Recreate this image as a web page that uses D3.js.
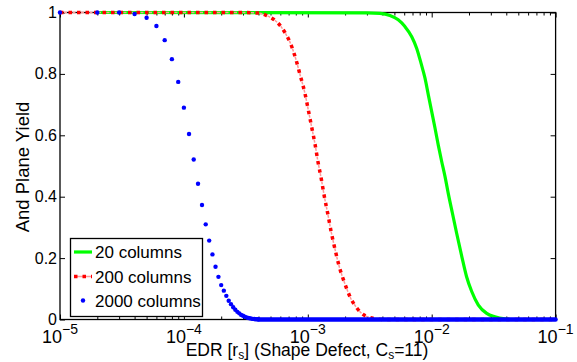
<!DOCTYPE html>
<html>
<head>
<meta charset="utf-8">
<script src="https://cdn.jsdelivr.net/npm/d3@7"></script>
<style>
  body { margin: 0; background: #fff; }
  text { font-family: "Liberation Sans", Arial, Helvetica, sans-serif; fill: #000; }
</style>
</head>
<body>
<div id="chart"></div>
<script>
// Series names (legend order)
var seriesNames = ["20 columns", "200 columns", "2000 columns"];

// 20 columns (green, solid)
var greenX = [2e-5, 3.0e-3, 3.83e-3, 4.60e-3, 5.37e-3, 6.08e-3, 6.90e-3, 7.57e-3, 8.20e-3, 8.83e-3, 9.40e-3,
  1.0e-2, 1.064e-2, 1.13e-2, 1.205e-2, 1.28e-2, 1.36e-2, 1.47e-2, 1.59e-2, 1.75e-2, 1.91e-2, 2.10e-2,
  2.38e-2, 2.78e-2, 3.24e-2, 3.9e-2, 4.6e-2, 1e-1];
var greenY = [1, 0.999, 0.997, 0.990, 0.976, 0.954, 0.921, 0.883, 0.835, 0.786, 0.731,
  0.677, 0.623, 0.568, 0.514, 0.466, 0.411, 0.346, 0.281, 0.205, 0.140, 0.092,
  0.047, 0.020, 0.009, 0.002, 0, 0];

// 200 columns (red, dash-dot)
var redX = [1e-5, 3e-4, 4.0e-4, 4.66e-4, 5.41e-4, 6.08e-4, 6.64e-4, 7.15e-4, 7.98e-4, 8.69e-4, 9.44e-4,
  1.009e-3, 1.074e-3, 1.143e-3, 1.208e-3, 1.285e-3, 1.358e-3, 1.449e-3, 1.538e-3, 1.660e-3, 1.795e-3,
  1.986e-3, 2.24e-3, 2.45e-3, 2.72e-3, 3.13e-3, 3.6e-3, 4.2e-3, 1e-1];
var redY = [1, 1, 0.998, 0.990, 0.975, 0.954, 0.930, 0.905, 0.850, 0.795, 0.740,
  0.683, 0.627, 0.572, 0.514, 0.458, 0.402, 0.345, 0.289, 0.228, 0.172,
  0.118, 0.066, 0.041, 0.020, 0.007, 0.002, 0, 0];

// 2000 columns (blue dots), sampled every 1e-5
var blueX = [1e-5, 2e-5, 3e-5, 4e-5, 5e-5, 6e-5, 7e-5, 8e-5, 9e-5, 10e-5,
  11e-5, 12e-5, 13e-5, 14e-5, 15e-5, 16e-5, 17e-5, 18e-5, 19e-5, 20e-5,
  21e-5, 22e-5, 23e-5, 24e-5, 25e-5, 26e-5, 27e-5, 28e-5, 29e-5, 30e-5,
  31e-5, 32e-5, 33e-5, 34e-5, 35e-5, 36e-5, 37e-5, 38e-5, 39e-5, 40e-5];
var blueY = [1, 1, 1, 0.995, 0.983, 0.956, 0.910, 0.848, 0.774, 0.690,
  0.604, 0.521, 0.442, 0.373, 0.310, 0.257, 0.212, 0.172, 0.139, 0.112,
  0.094, 0.077, 0.061, 0.050, 0.040, 0.032, 0.025, 0.020, 0.015, 0.012,
  0.009, 0.007, 0.005, 0.004, 0.003, 0.002, 0.0015, 0.001, 0.0007, 0.0005];
// the dense zero tail of the blue dots, drawn as one thick run
var blueTailX = [4e-4, 1e-1];
var blueTailY = [0, 0];

// Tick values
var xMajor = [1e-5, 1e-4, 1e-3, 1e-2, 1e-1];
var xExponents = ["\u22125", "\u22124", "\u22123", "\u22122", "\u22121"];
var yTicks = [0, 0.2, 0.4, 0.6, 0.8, 1];
var yTickLabels = ["0", "0.2", "0.4", "0.6", "0.8", "1"];

// Chart dimensions (plot box)
var w = 577;
var h = 362;
var plotLeft = 60, plotRight = 555.6, plotTop = 12.5, plotBottom = 319.5;

var svg = d3
  .select("#chart")
  .append("svg")
  .attr("width", w)
  .attr("height", h);

// Scales
var xScale = d3.scaleLog().domain([1e-5, 1e-1]).range([plotLeft, plotRight]);
var yScale = d3.scaleLinear().domain([0, 1]).range([plotBottom, plotTop]);

// minor ticks 2..9 in each decade
var xMinor = [];
xMajor.slice(0, -1).forEach(function (d) {
  [2, 3, 4, 5, 6, 7, 8, 9].forEach(function (m) {
    xMinor.push(d * m);
  });
});

function styleAxis(g) {
  g.select(".domain").remove();
  g.selectAll("line").attr("stroke", "#000").attr("stroke-width", 1);
  g.selectAll("text").remove();
}

// bottom / top ticks (pointing inward)
svg.append("g").attr("transform", "translate(0," + plotBottom + ")")
  .call(d3.axisBottom(xScale).tickValues(xMajor).tickSize(-5)).call(styleAxis);
svg.append("g").attr("transform", "translate(0," + plotBottom + ")")
  .call(d3.axisBottom(xScale).tickValues(xMinor).tickSize(-3)).call(styleAxis);
svg.append("g").attr("transform", "translate(0," + plotTop + ")")
  .call(d3.axisTop(xScale).tickValues(xMajor).tickSize(-5)).call(styleAxis);
svg.append("g").attr("transform", "translate(0," + plotTop + ")")
  .call(d3.axisTop(xScale).tickValues(xMinor).tickSize(-3)).call(styleAxis);

// left / right ticks
svg.append("g").attr("transform", "translate(" + plotLeft + ",0)")
  .call(d3.axisLeft(yScale).tickValues(yTicks).tickSize(-5)).call(styleAxis);
svg.append("g").attr("transform", "translate(" + plotRight + ",0)")
  .call(d3.axisRight(yScale).tickValues(yTicks).tickSize(-5)).call(styleAxis);

// axes box
svg.append("rect")
  .attr("x", plotLeft)
  .attr("y", plotTop)
  .attr("width", plotRight - plotLeft)
  .attr("height", plotBottom - plotTop)
  .attr("fill", "none")
  .attr("stroke", "#000")
  .attr("stroke-width", 1.3);

// tick labels
svg.selectAll(".ylab")
  .data(yTicks)
  .enter()
  .append("text")
  .attr("class", "ylab")
  .attr("x", plotLeft - 3)
  .attr("y", function (d) { return yScale(d) + 5.5; })
  .attr("text-anchor", "end")
  .style("font-size", "16px")
  .text(function (d, i) { return yTickLabels[i]; });

var xl = svg.selectAll(".xlab")
  .data(xMajor)
  .enter()
  .append("text")
  .attr("class", "xlab")
  .attr("x", function (d) { return xScale(d); })
  .attr("y", 342.5)
  .attr("text-anchor", "middle")
  .style("font-size", "18px");
xl.append("tspan").text("10");
xl.append("tspan")
  .attr("dy", -9)
  .style("font-size", "14px")
  .text(function (d, i) { return xExponents[i]; });

// axis titles
var xt = svg.append("text")
  .attr("x", 307)
  .attr("y", 356)
  .attr("text-anchor", "middle")
  .style("font-size", "17.5px");
xt.append("tspan").text("EDR [r");
xt.append("tspan").attr("dy", 3).style("font-size", "12px").text("s");
xt.append("tspan").attr("dy", -3).text("] (Shape Defect, C");
xt.append("tspan").attr("dy", 3).style("font-size", "12px").text("s");
xt.append("tspan").attr("dy", -3).text("=11)");

svg.append("text")
  .attr("transform", "translate(29," + 167 + ") rotate(-90)")
  .attr("text-anchor", "middle")
  .style("font-size", "18.5px")
  .text("And Plane Yield");

// line generator
var line = d3.line()
  .x(function (d) { return xScale(d[0]); })
  .y(function (d) { return yScale(d[1]); })
  .curve(d3.curveMonotoneX);

// green
svg.append("path")
  .datum(d3.zip(greenX, greenY))
  .attr("d", line)
  .attr("fill", "none")
  .attr("stroke", "#00ff00")
  .attr("stroke-width", 3.2);

// red dash-dot: faint dash under bold dots
var redData = d3.zip(redX, redY);
svg.append("path")
  .datum(redData)
  .attr("d", line)
  .attr("fill", "none")
  .attr("stroke", "#ff9999")
  .attr("stroke-width", 1.5)
  .attr("stroke-dasharray", "0,4,3,1.5");
svg.append("path")
  .datum(redData)
  .attr("d", line)
  .attr("fill", "none")
  .attr("stroke", "#ff0000")
  .attr("stroke-width", 3.5)
  .attr("stroke-dasharray", "3.5,5");

// blue dots
svg.append("path")
  .datum(d3.zip(blueTailX, blueTailY))
  .attr("d", d3.line().x(function (d) { return xScale(d[0]); }).y(function (d) { return yScale(d[1]); }))
  .attr("fill", "none")
  .attr("stroke", "#0000ff")
  .attr("stroke-width", 4.4)
  .attr("stroke-linecap", "round");

svg.selectAll(".dot")
  .data(d3.zip(blueX, blueY))
  .enter()
  .append("circle")
  .attr("class", "dot")
  .attr("cx", function (d) { return xScale(d[0]); })
  .attr("cy", function (d) { return yScale(d[1]); })
  .attr("r", 2.2)
  .attr("fill", "#0000ff");

// legend
var legend = svg.append("g");
legend.append("rect")
  .attr("x", 70.5)
  .attr("y", 238.5)
  .attr("width", 132)
  .attr("height", 78)
  .attr("fill", "#fff")
  .attr("stroke", "#000")
  .attr("stroke-width", 1.3);

var rowY = [252, 276.5, 300.5];
legend.append("line")
  .attr("x1", 74).attr("x2", 92).attr("y1", rowY[0]).attr("y2", rowY[0])
  .attr("stroke", "#00ff00").attr("stroke-width", 3.2);
legend.append("line")
  .attr("x1", 74).attr("x2", 92).attr("y1", rowY[1]).attr("y2", rowY[1])
  .attr("stroke", "#ff9999").attr("stroke-width", 1.5);
legend.append("line")
  .attr("x1", 74).attr("x2", 92).attr("y1", rowY[1]).attr("y2", rowY[1])
  .attr("stroke", "#ff0000").attr("stroke-width", 3.5).attr("stroke-dasharray", "3.5,5");
legend.append("circle")
  .attr("cx", 83).attr("cy", rowY[2]).attr("r", 2.2).attr("fill", "#0000ff");

legend.selectAll(".ltext")
  .data(seriesNames)
  .enter()
  .append("text")
  .attr("class", "ltext")
  .attr("x", 95)
  .attr("y", function (d, i) { return rowY[i] + 6; })
  .style("font-size", "17px")
  .text(function (d) { return d; });
</script>
</body>
</html>
